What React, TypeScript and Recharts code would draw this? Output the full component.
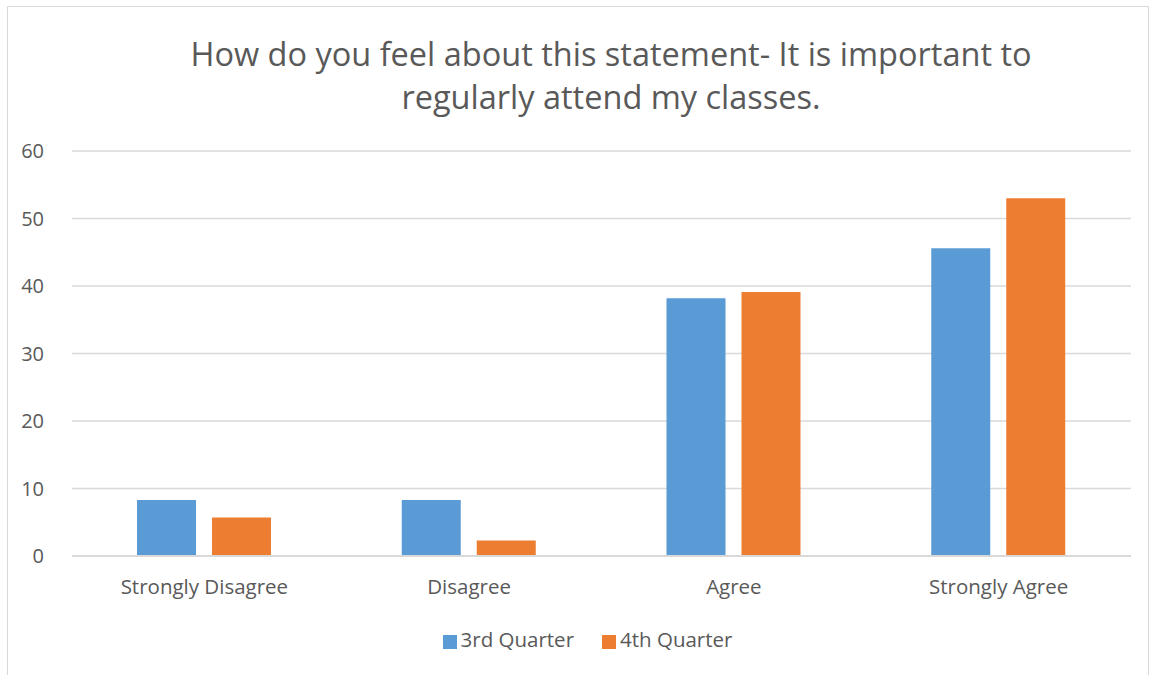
import { BarChart, Bar, XAxis, YAxis, CartesianGrid, Legend } from 'recharts'

const categories = ['Strongly Disagree', 'Disagree', 'Agree', 'Strongly Agree']
const thirdQuarter = [8.3, 8.3, 38.2, 45.6]
const fourthQuarter = [5.7, 2.3, 39.1, 53.0]
const yTicks = [0, 10, 20, 30, 40, 50, 60]

const data = categories.map((name, i) => ({
  name,
  q3: thirdQuarter[i],
  q4: fourthQuarter[i],
}))

const font = '"Open Sans", "Liberation Sans", sans-serif'
const textColor = '#595959'

export default function App() {
  return (
    <div
      style={{
        position: 'absolute',
        left: 0,
        top: 0,
        width: 1157,
        height: 675,
        background: '#fff',
        fontFamily: font,
      }}
    >
      <div
        style={{
          position: 'absolute',
          left: 7,
          top: 6,
          width: 1142,
          height: 680,
          border: '1.5px solid #d9d9d9',
          boxSizing: 'border-box',
        }}
      />
      <div
        style={{
          position: 'absolute',
          left: 72,
          width: 1078,
          top: 32,
          textAlign: 'center',
          fontSize: 32.5,
          lineHeight: '43px',
          color: textColor,
        }}
      >
        How do you feel about this statement- It is important to
        <br />
        regularly attend my classes.
      </div>
      <BarChart
        width={1157}
        height={675}
        data={data}
        margin={{ top: 151, right: 26, left: 0, bottom: 61 }}
        barCategoryGap={65}
        barGap={16}
      >
        <CartesianGrid vertical={false} stroke="#d9d9d9" strokeWidth={1.3} />
        <XAxis
          dataKey="name"
          axisLine={{ stroke: '#d9d9d9', strokeWidth: 2 }}
          tickLine={false}
          tick={{ fill: textColor, fontSize: 20.5, fontFamily: font }}
          tickMargin={17}
          interval={0}
        />
        <YAxis
          width={72}
          domain={[0, 60]}
          ticks={yTicks}
          axisLine={false}
          tickLine={false}
          tick={{ fill: textColor, fontSize: 20, fontFamily: font }}
          tickMargin={22}
        />
        <Legend
          verticalAlign="bottom"
          align="center"
          iconType="square"
          iconSize={14}
          wrapperStyle={{
            left: 72,
            width: 1059,
            bottom: 22,
            fontSize: 20.5,
            fontFamily: font,
          }}
          formatter={(value) => (
            <span style={{ color: textColor, marginRight: 18 }}>{value}</span>
          )}
        />
        <Bar dataKey="q3" name="3rd Quarter" fill="#5b9bd5" isAnimationActive={false} />
        <Bar dataKey="q4" name="4th Quarter" fill="#ed7d31" isAnimationActive={false} />
      </BarChart>
    </div>
  )
}
